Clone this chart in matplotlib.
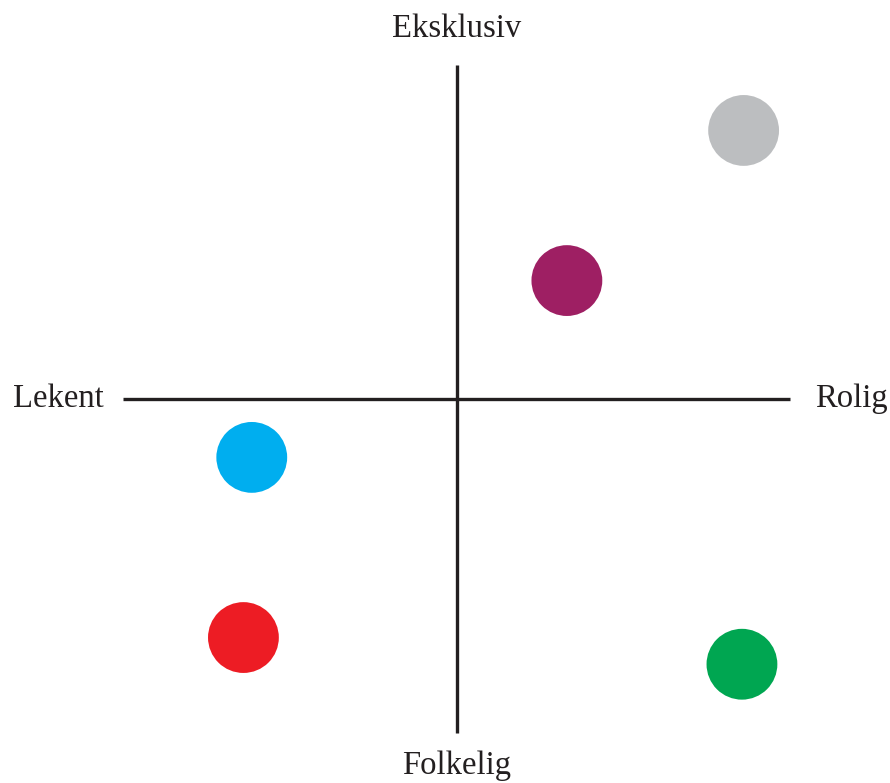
import matplotlib.pyplot as plt

# positioning map: x = Lekent (-) .. Rolig (+), y = Folkelig (-) .. Eksklusiv (+)
names = ["grey", "purple", "blue", "red", "green"]
x_vals = [8.6, 3.3, -6.15, -6.4, 8.55]
y_vals = [8.05, 3.55, -1.75, -7.15, -7.95]
colors = ["#BCBEC0", "#9E1F63", "#00AEEF", "#ED1C24", "#00A651"]

left_label, right_label = "Lekent", "Rolig"
top_label, bottom_label = "Eksklusiv", "Folkelig"
extent = 10

plt.rcParams['font.family'] = ['Liberation Serif', 'DejaVu Serif']

fig = plt.figure(figsize=(8.9, 7.83), dpi=100)
ax = fig.add_axes([0, 0, 1, 1])
ax.set_xlim(-13.70, 12.99)
ax.set_ylim(-11.51, 11.96)
ax.axis('off')

ax.plot([-extent, extent], [0, 0], color='#231F20', linewidth=2.4, solid_capstyle='butt')
ax.plot([0, 0], [-extent, extent], color='#231F20', linewidth=2.4, solid_capstyle='butt')

ax.scatter(x_vals, y_vals, s=2600, c=colors, edgecolors='none', zorder=3)

fs = 23.5
ax.text(-extent - 0.6, 0, left_label, ha='right', va='center', fontsize=fs, color='#231F20')
ax.text(extent + 0.75, 0, right_label, ha='left', va='center', fontsize=fs, color='#231F20')
ax.text(0, 11.1, top_label, ha='center', va='center', fontsize=fs, color='#231F20')
ax.text(0, -11.0, bottom_label, ha='center', va='center', fontsize=fs, color='#231F20')

fig.savefig("out.png", dpi=100)
